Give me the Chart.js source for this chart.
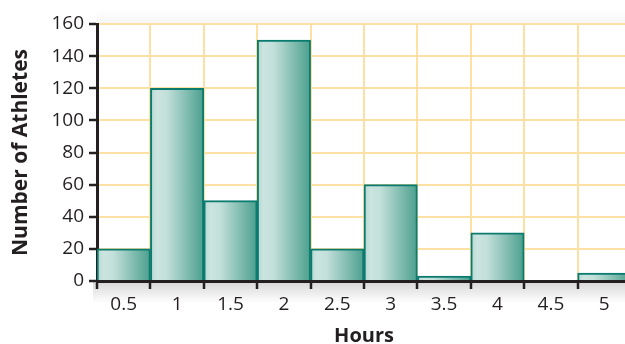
<!DOCTYPE html>
<html><head><meta charset="utf-8">
<script src="https://cdn.jsdelivr.net/npm/chart.js@4/dist/chart.umd.min.js"></script>
<style>
html,body{margin:0;padding:0;overflow:hidden;background:#fff;width:625px;height:344px}
#wrap{position:absolute;left:0;top:0;width:632px;height:344px}
</style></head>
<body><div id="wrap"><canvas id="c"></canvas></div>
<script>
const categories = ['0.5','1','1.5','2','2.5','3','3.5','4','4.5','5'];
const athletes = [20, 120, 50, 150, 20, 60, 3, 30, 0, 5];
const yMin = 0, yMax = 160, yStep = 20;
const xTitle = 'Hours';
const yTitle = 'Number of Athletes';

const INK = '#231f20';
const GRID = '#fde0a3';
const FONT = '"Open Sans", sans-serif';

function barGradient(c) {
  const ch = c.chart;
  const xs = ch.scales && ch.scales.x;
  if (!ch.chartArea || !xs || c.dataIndex === undefined) return '#9fcfc5';
  const cx = xs.getPixelForValue(c.dataIndex);
  const w = xs.width / categories.length;
  const g = ch.ctx.createLinearGradient(cx - w / 2, 0, cx + w / 2, 0);
  g.addColorStop(0, '#b5d7d0');
  g.addColorStop(0.12, '#cbe4df');
  g.addColorStop(0.3, '#c3e0da');
  g.addColorStop(1, '#4b9f8e');
  return g;
}

const shadows = {
  id: 'shadows',
  beforeDraw(chart) {
    const {ctx, chartArea: a, width} = chart;
    ctx.save();
    let g = ctx.createLinearGradient(0, a.bottom, 0, a.bottom + 22);
    g.addColorStop(0, 'rgba(0,0,0,0.16)');
    g.addColorStop(1, 'rgba(0,0,0,0)');
    ctx.fillStyle = g;
    ctx.fillRect(a.left - 4, a.bottom, width, 22);
    g = ctx.createLinearGradient(0, a.top - 14, 0, a.top);
    g.addColorStop(0, 'rgba(0,0,0,0)');
    g.addColorStop(1, 'rgba(0,0,0,0.04)');
    ctx.fillStyle = g;
    ctx.fillRect(a.left, a.top - 14, width, 14);
    ctx.restore();
  }
};

new Chart(document.getElementById('c'), {
  type: 'bar',
  data: {
    labels: categories,
    datasets: [{
      data: athletes,
      backgroundColor: barGradient,
      borderColor: '#0b7b70',
      borderWidth: 2,
      borderSkipped: 'start',
      categoryPercentage: 1,
      barPercentage: 1
    }]
  },
  options: {
    responsive: true,
    maintainAspectRatio: false,
    animation: false,
    layout: {padding: {left: 0, right: 1, top: 24, bottom: 0}},
    plugins: {legend: {display: false}, tooltip: {enabled: false}},
    scales: {
      x: {
        offset: true,
        afterFit(s) { s.height = 63; },
        grid: {display: true, offset: true, color: GRID, lineWidth: 2, tickColor: INK, tickWidth: 2.5, tickLength: 8, drawOnChartArea: true},
        border: {display: true, color: INK, width: 3},
        ticks: {color: INK, font: {family: FONT, size: 19}, padding: 4, maxRotation: 0, autoSkip: false},
        title: {display: true, text: xTitle, color: INK, font: {family: FONT, size: 20, weight: 'bold', lineHeight: 0.8}, padding: {top: 0, bottom: 0}}
      },
      y: {
        min: yMin, max: yMax,
        afterFit(s) { s.width = 97; },
        grid: {color: GRID, lineWidth: 2, tickColor: INK, tickWidth: 2.5, tickLength: 8},
        border: {display: true, color: INK, width: 3},
        ticks: {stepSize: yStep, color: INK, font: {family: FONT, size: 19}, padding: 5},
        title: {display: true, text: yTitle, color: INK, font: {family: FONT, size: 21, weight: 'bold', lineHeight: 1.2}, padding: {top: 8, bottom: 0}}
      }
    }
  },
  plugins: [shadows]
});
</script>
</body></html>
